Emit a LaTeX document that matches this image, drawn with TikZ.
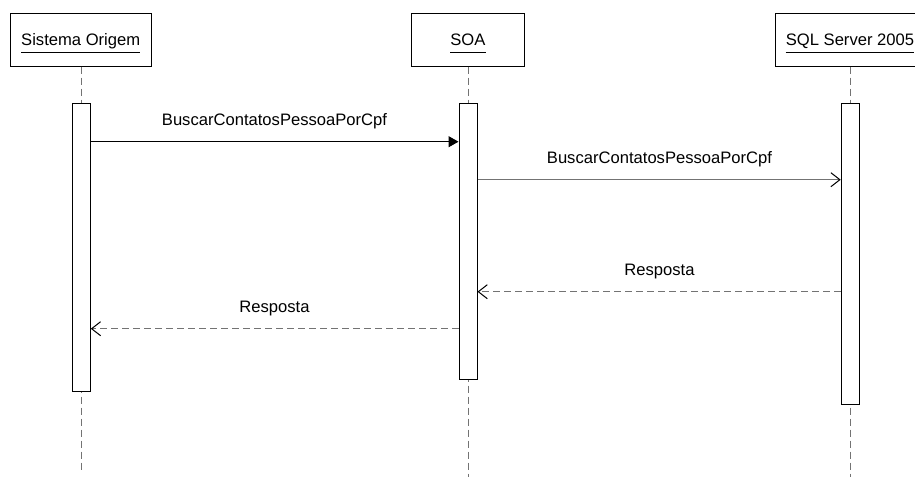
\documentclass[tikz,border=0pt]{standalone}
\usepackage{fontspec}
\setmainfont{Liberation Sans}
\usetikzlibrary{arrows.meta}
\newcommand{\lblfont}{\fontsize{16.6}{20}\selectfont}
\begin{document}
\begin{tikzpicture}[x=1pt,y=-1pt,
  headbox/.style={draw=black,line width=1pt,fill=white,inner sep=0pt,minimum height=53pt},
  headtxt/.style={font=\lblfont,anchor=base,inner sep=0pt},
  uline/.style={line width=1pt,black},
  lifeline/.style={draw=black!55,line width=1pt,dash pattern=on 7pt off 4pt},
  actbar/.style={draw=black,fill=white,line width=1pt,inner sep=0pt,minimum width=18pt},
  callmsg/.style={line width=1pt,-{Triangle[length=10pt,width=11pt]}},
  syncmsg/.style={line width=1pt,draw=black!55,-{Straight Barb[length=9pt,width=14pt,color=black,line width=1pt]}},
  retmsg/.style={line width=1pt,draw=black!55,dash pattern=on 7pt off 4pt,-{Straight Barb[length=9pt,width=14pt,color=black,line width=1pt]}},
  msglbl/.style={font=\lblfont,anchor=base,inner sep=0pt}]
\useasboundingbox (0,0) rectangle (915,477);
\clip (0,0) rectangle (915,477);
% header boxes
\node[headbox,minimum width=141pt] (h1) at (80.5,39.5) {};
\node[headbox,minimum width=112.5pt] (h2) at (467.9,39.5) {};
\node[headbox,minimum width=150pt] (h3) at (850,39.5) {};
% lifeline ends
\coordinate (e1) at (81,472);
\coordinate (e2) at (468,477);
\coordinate (e3) at (850,477);
\draw[lifeline] (h1.south -| e1) -- (e1);
\draw[lifeline] (h2.south -| e2) -- (e2);
\draw[lifeline] (h3.south -| e3) -- (e3);
% header texts
\node[headtxt] (t1) at (80.7,45) {Sistema Origem};
\node[headtxt] (t2) at (467.9,45) {SOA};
\node[headtxt] (t3) at (850,45) {SQL Server 2005};
\draw[uline] ([yshift=-7.3pt]t1.base west) -- ([yshift=-7.3pt]t1.base east);
\draw[uline] ([yshift=-7.3pt]t2.base west) -- ([yshift=-7.3pt]t2.base east);
\draw[uline] ([yshift=-7.3pt]t3.base west) -- ([yshift=-7.3pt]t3.base east);
% activation bars
\node[actbar,minimum height=287.7pt] (a1) at (81.3,247.2) {};
\node[actbar,minimum height=276.4pt] (a2) at (468,241.5) {};
\node[actbar,minimum height=300.7pt] (a3) at (850.2,253.7) {};
% messages
\draw[callmsg] (a1.east |- 0,141.7) -- (a2.west |- 0,141.7);
\node[msglbl] (l1) at (274.5,125) {BuscarContatosPessoaPorCpf};
\draw[syncmsg] (a2.east |- 0,179.7) -- (a3.west |- 0,179.7);
\node[msglbl] (l2) at (659.5,163) {BuscarContatosPessoaPorCpf};
\draw[retmsg] (a3.west |- 0,291.7) -- (a2.east |- 0,291.7);
\node[msglbl] (l3) at (659.5,275) {Resposta};
\draw[retmsg] (a2.west |- 0,328.7) -- (a1.east |- 0,328.7);
\node[msglbl] (l4) at (274.5,312) {Resposta};
\end{tikzpicture}
\end{document}
